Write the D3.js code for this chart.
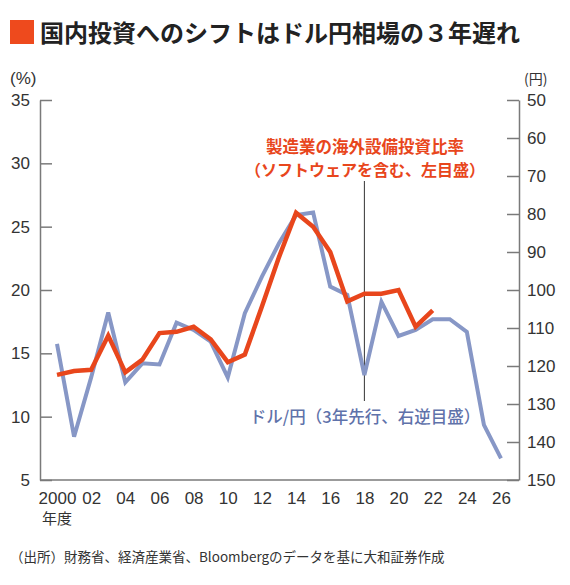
<!DOCTYPE html>
<html lang="ja">
<head>
    <meta charset="UTF-8">
    <title>国内投資へのシフトはドル円相場の３年遅れ</title>
    <style>
    html, body {
        margin: 0;
        padding: 0;
        background-color: #ffffff;
    }

    svg {
        display: block;
    }

    .num {
        font-family: "Liberation Sans", Arial, sans-serif;
        font-size: 17px;
        fill: #333333;
    }

    .jp {
        font-family: "Noto Sans CJK JP", sans-serif;
    }

    .axis path, .axis line {
        stroke: #7a7a7a;
        stroke-width: 1.5;
    }
    </style>
    <script src="https://cdn.jsdelivr.net/npm/d3@7"></script>
</head>
<body>
    <svg id="canvas"></svg>

    <script>
    // Data
    let years = [2000, 2001, 2002, 2003, 2004, 2005, 2006, 2007, 2008, 2009,
                 2010, 2011, 2012, 2013, 2014, 2015, 2016, 2017, 2018, 2019,
                 2020, 2021, 2022, 2023, 2024, 2025, 2026];
    // 製造業の海外設備投資比率 (%), 2000-2022
    let investRatio = [13.3, 13.6, 13.7, 16.4, 13.5, 14.5, 16.6, 16.7, 17.1, 16.1,
                       14.3, 14.9, 18.7, 22.6, 26.1, 25.0, 23.0, 19.1, 19.7, 19.7,
                       20.0, 17.1, 18.4];
    // ドル/円 (3年先行), 2000-2026
    let usdJpy = [114.2, 138.6, 123.0, 105.9, 124.3, 119.3, 119.6, 108.6, 110.5, 113.6,
                  123.0, 106.1, 96.5, 87.7, 80.3, 79.6, 99.1, 101.3, 122.4, 103.1,
                  112.1, 110.5, 107.7, 107.7, 111.0, 135.5, 144.3];
    let xTickYears = [2000, 2002, 2004, 2006, 2008, 2010, 2012, 2014, 2016, 2018, 2020, 2022, 2024, 2026];
    let xTickLabels = ['2000', '02', '04', '06', '08', '10', '12', '14', '16', '18', '20', '22', '24', '26'];
    let leftTicks = [5, 10, 15, 20, 25, 30, 35];
    let rightTicks = [50, 60, 70, 80, 90, 100, 110, 120, 130, 140, 150];

    let width = 570;
    let height = 585;
    let axisLeftX = 40;
    let axisRightX = 519;
    let plotTop = 100;
    let plotBottom = 480;

    let orange = '#e8461c';
    let blue = '#8797c6';

    let svg = d3.select('svg')
        .attr('width', width)
        .attr('height', height);

    // Scales
    let xScale = d3.scaleLinear()
        .domain([2000, 2026])
        .range([57, 501]);

    let yLeft = d3.scaleLinear()
        .domain([5, 35])
        .range([plotBottom, plotTop]);

    let yRight = d3.scaleLinear()
        .domain([50, 150])
        .range([plotTop, plotBottom]);

    // Title
    svg.append('rect')
        .attr('x', 10)
        .attr('y', 20)
        .attr('width', 24)
        .attr('height', 24)
        .attr('fill', '#ee4a1d');

    svg.append('text')
        .attr('class', 'jp')
        .attr('x', 40)
        .attr('y', 42)
        .attr('font-size', 24)
        .attr('font-weight', 700)
        .attr('fill', '#222222')
        .text('国内投資へのシフトはドル円相場の３年遅れ');

    // Unit labels
    svg.append('text')
        .attr('class', 'num')
        .attr('x', 10)
        .attr('y', 84)
        .attr('font-size', 14)
        .text('(%)');

    svg.append('text')
        .attr('class', 'jp')
        .attr('x', 524)
        .attr('y', 84)
        .attr('font-size', 14)
        .attr('fill', '#333333')
        .text('(円)');

    // Axes
    let leftAxis = d3.axisLeft(yLeft)
        .tickValues(leftTicks)
        .tickSize(-12)
        .tickSizeOuter(0)
        .tickPadding(10);

    svg.append('g')
        .attr('class', 'axis')
        .attr('transform', 'translate(' + axisLeftX + ', 0)')
        .call(leftAxis)
        .selectAll('text')
        .attr('class', 'num')
        .attr('font-size', null)
        .attr('font-family', null);

    let rightAxis = d3.axisRight(yRight)
        .tickValues(rightTicks)
        .tickSize(-12)
        .tickSizeOuter(0)
        .tickPadding(8);

    svg.append('g')
        .attr('class', 'axis')
        .attr('transform', 'translate(' + axisRightX + ', 0)')
        .call(rightAxis)
        .selectAll('text')
        .attr('class', 'num')
        .attr('font-size', null)
        .attr('font-family', null);

    // Bottom baseline
    svg.append('line')
        .attr('x1', axisLeftX)
        .attr('x2', axisRightX)
        .attr('y1', yLeft(5))
        .attr('y2', yLeft(5))
        .attr('stroke', '#7a7a7a')
        .attr('stroke-width', 1.5);

    let bottomAxis = d3.axisBottom(xScale)
        .tickValues(xTickYears)
        .tickFormat((d, i) => xTickLabels[i])
        .tickSize(0)
        .tickPadding(12);

    let gx = svg.append('g')
        .attr('transform', 'translate(0, ' + plotBottom + ')')
        .call(bottomAxis);
    gx.select('.domain').remove();
    gx.selectAll('text')
        .attr('class', 'num')
        .attr('font-size', null)
        .attr('font-family', null);

    svg.append('text')
        .attr('class', 'jp')
        .attr('x', xScale(2000))
        .attr('y', 524)
        .attr('text-anchor', 'middle')
        .attr('font-size', 15)
        .attr('fill', '#333333')
        .text('年度');

    // Annotation leader line
    svg.append('line')
        .attr('x1', xScale(2018))
        .attr('x2', xScale(2018))
        .attr('y1', 181)
        .attr('y2', 401)
        .attr('stroke', '#333333')
        .attr('stroke-width', 1);

    // Lines
    let blueLine = d3.line()
        .x((d, i) => xScale(years[i]))
        .y((d) => yRight(d));

    svg.append('path')
        .datum(usdJpy)
        .attr('d', blueLine)
        .attr('fill', 'none')
        .attr('stroke', blue)
        .attr('stroke-width', 4);

    let orangeLine = d3.line()
        .x((d, i) => xScale(years[i]))
        .y((d) => yLeft(d));

    svg.append('path')
        .datum(investRatio)
        .attr('d', orangeLine)
        .attr('fill', 'none')
        .attr('stroke', orange)
        .attr('stroke-width', 4.5);

    // Series labels
    svg.append('text')
        .attr('class', 'jp')
        .attr('x', 365)
        .attr('y', 153)
        .attr('text-anchor', 'middle')
        .attr('font-size', 16.5)
        .attr('font-weight', 700)
        .attr('fill', orange)
        .text('製造業の海外設備投資比率');

    svg.append('text')
        .attr('class', 'jp')
        .attr('x', 365)
        .attr('y', 176)
        .attr('text-anchor', 'middle')
        .attr('font-size', 16)
        .attr('font-weight', 700)
        .attr('fill', orange)
        .text('（ソフトウェアを含む、左目盛）');

    svg.append('text')
        .attr('class', 'jp')
        .attr('x', 365)
        .attr('y', 423)
        .attr('text-anchor', 'middle')
        .attr('font-size', 16.5)
        .attr('font-weight', 500)
        .attr('fill', '#5f72aa')
        .text('ドル/円（3年先行、右逆目盛）');

    // Source
    svg.append('text')
        .attr('class', 'jp')
        .attr('x', 10)
        .attr('y', 562)
        .attr('font-size', 13.5)
        .attr('fill', '#333333')
        .text('（出所）財務省、経済産業省、Bloombergのデータを基に大和証券作成');
    </script>
</body>
</html>
